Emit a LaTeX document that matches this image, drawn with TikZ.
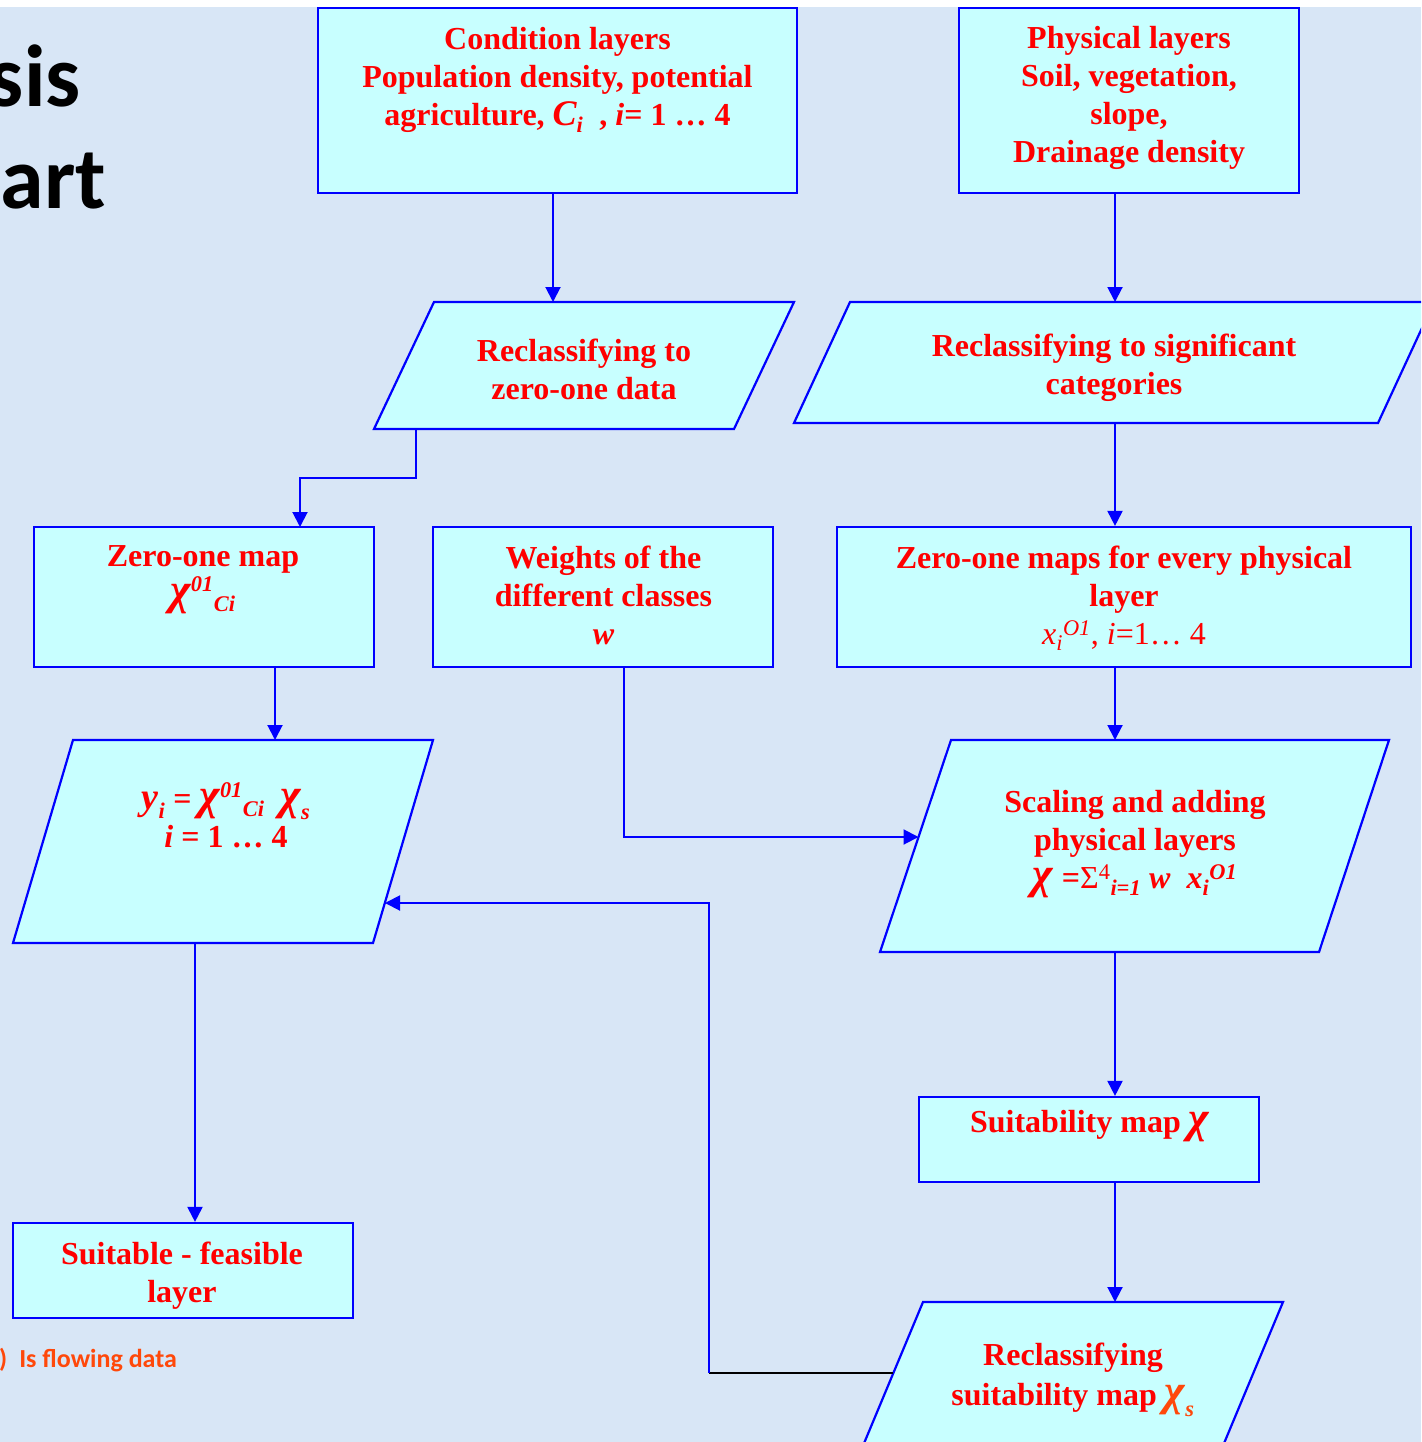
\documentclass[tikz,border=0pt]{standalone}
\usepackage{fontspec}
\usepackage{amsmath}
\setmainfont{Liberation Serif}
\newfontfamily\calib{Carlito}
\usetikzlibrary{arrows.meta,calc}
\definecolor{bgblue}{RGB}{216,230,246}
\definecolor{boxfill}{RGB}{200,255,255}
\definecolor{lineblue}{RGB}{0,0,255}
\definecolor{txtred}{RGB}{255,0,0}
\definecolor{orng}{RGB}{255,72,10}
\newcommand\chisym{\textit{\fontsize{44}{44}\selectfont χ}}
\begin{document}
\begin{tikzpicture}[x=1pt,y=-1pt,
  boxshape/.style={draw=lineblue,fill=boxfill,line width=2.2pt,inner sep=0pt},
  pshape/.style={draw=lineblue,fill=boxfill,line width=2.2pt},
  lbl/.style={text=txtred,font=\bfseries\fontsize{32}{38}\selectfont,align=center,inner sep=0pt,anchor=north},
  arr/.style={draw=lineblue,line width=2pt,-{Triangle[length=15pt,width=15pt]}},
  fb/.style={draw=black,line width=1.5pt}]
\useasboundingbox (0,0) rectangle (1421,1442);
\clip (0,0) rectangle (1421,1442);
\fill[bgblue] (0,0) rectangle (1421,1442);
\fill[white] (0,0) rectangle (1421,7);

% title fragments
\node[anchor=base east,inner sep=0pt,font=\calib\bfseries\fontsize{88}{90}\selectfont] (ttlA) at (81,107) {sis};
\node[anchor=base east,inner sep=0pt,font=\calib\bfseries\fontsize{88}{90}\selectfont] (ttlB) at (106,208) {art};

% top boxes
\node[boxshape,minimum width=479pt,minimum height=185pt] (cond) at (557.5,100.5) {};
\node[lbl] (condT) at (557.5,27) {Condition layers\\Population density, potential\\agriculture, $\textit{\fontsize{36}{36}\selectfont C}_{\textit{i}}$\ \ , \textit{i}= 1 … 4};
\node[boxshape,minimum width=340pt,minimum height=185pt] (phys) at (1129,100.5) {};
\node[lbl] (physT) at (1129,26) {Physical layers\\Soil, vegetation,\\slope,\\Drainage density};

% reclassifying parallelograms
\draw[pshape] (434,302) -- (794,302) -- (734,429) -- (374,429) -- cycle;
\node[lbl] (r1T) at (584,339) {Reclassifying to\\zero-one data};
\coordinate (r1N) at (553,302);
\coordinate (r1S) at (416,429);
\draw[pshape] (850,302) -- (1434,302) -- (1378,423) -- (794,423) -- cycle;
\node[lbl] (r2T) at (1114,334) {Reclassifying to significant\\categories};
\coordinate (r2N) at (1115,302);
\coordinate (r2S) at (1115,423);

% middle row
\node[boxshape,minimum width=340pt,minimum height=140pt] (zom) at (204,597) {};
\node[lbl] (zomT) at (203,545) {Zero-one map\\$\chisym^{\textit{01}}{}_{\textit{Ci}}$};
\node[boxshape,minimum width=340pt,minimum height=140pt] (wts) at (603,597) {};
\node[lbl] (wtsT) at (603.5,546) {Weights of the\\different classes\\\textit{w}};
\node[boxshape,minimum width=574pt,minimum height=140pt] (zmp) at (1124,597) {};
\node[lbl] (zmpT) at (1124,546) {Zero-one maps for every physical\\layer\\{\mdseries $\textit{x}_{\textit{i}}{}^{\textit{O1}}$, \textit{i}=1… 4}};

% Yi parallelogram
\draw[pshape] (73,740) -- (433,740) -- (373,943) -- (13,943) -- cycle;
\node[lbl] (yiT) at (226,782) {$\textit{\fontsize{38}{38}\selectfont y}_{\textit{i}}$ = $\chisym^{\textit{01}}{}_{\textit{Ci}}$\ \ $\chisym_{\textit{s}}$\\\textit{i} = 1 … 4};
\coordinate (yiN) at (275,740);
\coordinate (yiE) at (385,903);
\coordinate (yiS) at (195,943);

% scaling parallelogram
\draw[pshape] (951,740) -- (1389,740) -- (1319,952) -- (880,952) -- cycle;
\node[lbl] (scT) at (1135,790) {Scaling and adding\\physical layers\\\chisym\ ={\mdseries Σ}$^{\text{\mdseries 4}}{}_{\textit{i=1}}$ \textit{w}\ \ $\textit{x}_{\textit{i}}{}^{\textit{O1}}$};
\coordinate (scN) at (1115,740);
\coordinate (scW) at (918.5,837);
\coordinate (scS) at (1115,952);

% suitability map
\node[boxshape,minimum width=340pt,minimum height=85pt] (suit) at (1089,1139.5) {};
\node[lbl] (suitT) at (1090,1110) {Suitability map \chisym};

% reclassifying suitability map
\draw[pshape] (923,1302) -- (1283,1302) -- (1192,1520) -- (832,1520) -- cycle;
\node[lbl] (rsT) at (1073,1343) {Reclassifying\\[2pt]suitability map {\color{orng}$\chisym_{\textit{s}}$}};
\coordinate (rsN) at (1115,1302);
\coordinate (rsW) at (893,1373);

% suitable feasible
\node[boxshape,minimum width=340pt,minimum height=95pt] (feas) at (183,1270.5) {};
\node[lbl] (feasT) at (182,1242) {Suitable - feasible\\layer};

% legend
\node[anchor=base west,inner sep=0pt,text=orng,font=\calib\bfseries\fontsize{26}{30}\selectfont] (legend) at (-1,1367) {)\hspace{12pt}Is flowing data};

% connectors
\coordinate (b1) at (416,478);
\coordinate (zomN) at (300,527);
\coordinate (wS) at (624,667);
\coordinate (fbC) at (709,1373);
\draw[arr] (r1N |- cond.south) -- (r1N);
\draw[arr] (r2N |- phys.south) -- (r2N);
\draw[arr] (r1S) -- (b1) -| (zomN);
\draw[arr] (r2S) -- (r2S |- zmp.north);
\draw[arr] (yiN |- zom.south) -- (yiN);
\draw[arr] (wS) |- (scW);
\draw[arr] (scN |- zmp.south) -- (scN);
\draw[arr] (scS) -- (scS |- suit.north);
\draw[arr] (rsN |- suit.south) -- (rsN);
\draw[fb] (rsW) -- (fbC);
\draw[arr] (fbC) |- (yiE);
\draw[arr] (yiS) -- (yiS |- feas.north);
\end{tikzpicture}
\end{document}
